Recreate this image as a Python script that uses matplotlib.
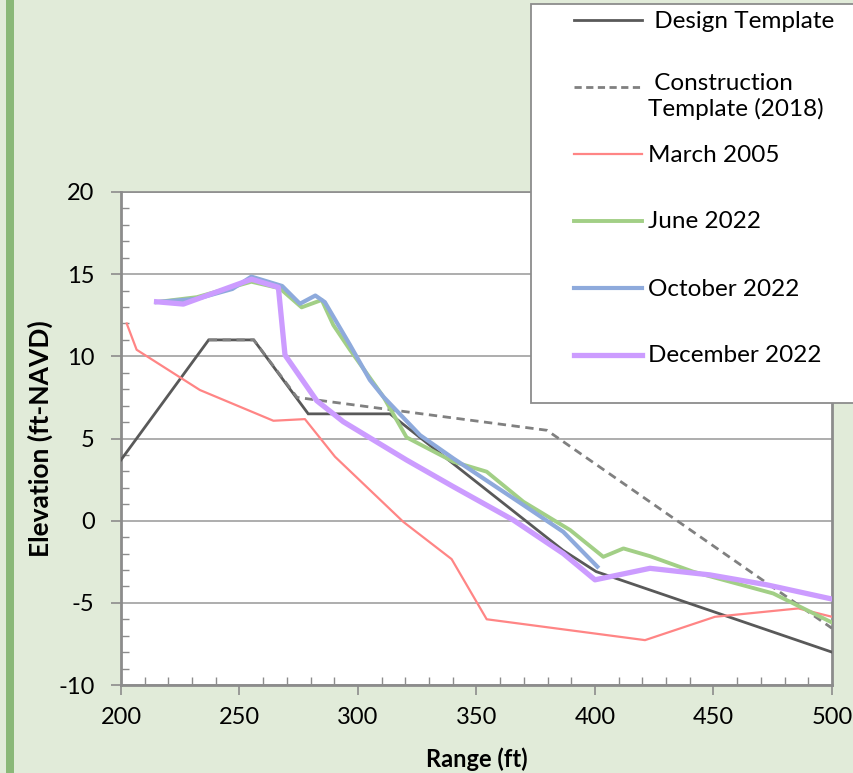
import matplotlib
matplotlib.use("Agg")
import matplotlib.pyplot as plt
from matplotlib.lines import Line2D
from matplotlib.patches import Rectangle

plt.rcParams['font.family'] = ['Lato', 'DejaVu Sans']
plt.rcParams['axes.unicode_minus'] = False

# ---- data ----
design_x = [200, 237, 256, 279, 313.5, 386.5, 400.5, 500]
design_y = [3.7, 11.0, 11.0, 6.5, 6.5, -1.8, -3.1, -8.0]

constr_x = [237, 256, 274.3, 379.7, 500]
constr_y = [11.0, 11.0, 7.5, 5.5, -6.55]

march_x = [202.4, 206.6, 233.3, 264.3, 277.6, 290.3, 319.1, 339.5, 354.3, 421.1, 450.6, 485.8, 500]
march_y = [12.0, 10.4, 7.95, 6.08, 6.18, 3.89, -0.07, -2.34, -6.0, -7.27, -5.85, -5.34, -5.85]

june_x = [215, 232, 255, 267, 276.2, 284.7, 289.6, 296.6, 310.7, 320.5, 340.2, 354.3,
          369.8, 389.5, 403.5, 412, 423.2, 441.5, 475.2, 500]
june_y = [13.3, 13.6, 14.54, 14.14, 12.98, 13.43, 11.9, 10.4, 7.54, 5.07, 3.59, 2.98,
          1.15, -0.57, -2.2, -1.69, -2.16, -3.11, -4.43, -6.2]

oct_x = [215, 232, 247, 255, 268, 275.5, 282, 286, 296.6, 305, 310.7, 326.2, 340.2,
         369.8, 386.6, 401]
oct_y = [13.3, 13.5, 14.1, 14.85, 14.28, 13.2, 13.7, 13.3, 10.7, 8.56, 7.54, 5.2, 3.79,
         0.95, -0.68, -2.8]

dec_x = [215, 226.3, 244.6, 255.1, 266.4, 269.2, 282.6, 293.8, 320.5, 340.2, 365.5,
         386.6, 400, 423.2, 448.5, 472.4, 500]
dec_y = [13.32, 13.18, 14.14, 14.69, 14.2, 10.08, 7.3, 6.02, 3.69, 2.07, 0.04,
         -2.0, -3.6, -2.9, -3.3, -3.9, -4.77]

labels = [" Design Template", " Construction\nTemplate (2018)", "March 2005",
          "June 2022", "October 2022", "December 2022"]
x_ticks = [200, 250, 300, 350, 400, 450, 500]
y_ticks = [-10, -5, 0, 5, 10, 15, 20]

# ---- styles ----
BG = '#e1ebd9'
c_design = '#595959'
c_constr = '#808080'
c_march = '#ff8585'
c_june = '#a2cf86'
c_oct = '#8eaadc'
c_dec = '#cc9cff'
GRID = '#a0a0a0'
AXC = '#8c8c8c'

W, H = 854, 773
fig = plt.figure(figsize=(W / 100, H / 100), dpi=100)
fig.patch.set_facecolor(BG)

def fx(px):
    return px / W

def fy(py):
    return 1 - py / H

# left decorative bar
fig.add_artist(Rectangle((fx(6), 0), fx(8), 1, transform=fig.transFigure,
                         facecolor='#8ab878', edgecolor='none', zorder=0))

ax = fig.add_axes([fx(121), fy(685), fx(832 - 121), fy(192) - fy(685)])
ax.set_facecolor('white')

ax.plot(design_x, design_y, color=c_design, lw=2.0, solid_joinstyle='miter', zorder=3)
ax.plot(constr_x, constr_y, color=c_constr, lw=2.0, dashes=(3.0, 2.0), zorder=3)
ax.plot(march_x, march_y, color=c_march, lw=1.6, zorder=3)
ax.plot(june_x, june_y, color=c_june, lw=2.8, zorder=4)
ax.plot(oct_x, oct_y, color=c_oct, lw=3.0, zorder=5)
ax.plot(dec_x, dec_y, color=c_dec, lw=3.8, zorder=6)

ax.set_xlim(200, 500)
ax.set_ylim(-10, 20)
ax.set_xticks(x_ticks)
ax.set_yticks(y_ticks)
ax.set_xticks(range(200, 501, 10), minor=True)
ax.set_yticks(range(-10, 21, 1), minor=True)
ax.yaxis.grid(True, which='major', color=GRID, lw=1.2)
ax.set_axisbelow(True)

for s in ax.spines.values():
    s.set_color(AXC)
    s.set_linewidth(1.2)
ax.spines['left'].set_linewidth(2.0)
ax.spines['bottom'].set_linewidth(2.0)
ax.spines['right'].set_linewidth(2.0)

ax.tick_params(axis='both', which='major', direction='out', length=7, width=1.2,
               color=AXC, labelsize=17, labelcolor='black')
ax.tick_params(axis='y', which='major', pad=12)
ax.tick_params(axis='x', which='major', pad=9)
ax.tick_params(axis='both', which='minor', direction='in', length=6, width=1.0, color=AXC)

ax.set_xlabel("Range (ft)", fontsize=17, fontweight='bold', labelpad=14)
ax.set_ylabel("Elevation (ft-NAVD)", fontsize=19, fontweight='bold', labelpad=4)

# ---- legend box (manual, Excel-like spacing) ----
fig.add_artist(Rectangle((fx(531), fy(403)), fx(340), fy(4) - fy(403),
                         transform=fig.transFigure, facecolor='white',
                         edgecolor='#8c8c8c', lw=1.3, zorder=10))
leg_styles = [
    dict(color=c_design, lw=2.0),
    dict(color=c_constr, lw=2.0, dashes=(2.6, 1.6)),
    dict(color=c_march, lw=1.6),
    dict(color=c_june, lw=2.8),
    dict(color=c_oct, lw=3.0),
    dict(color=c_dec, lw=3.8),
]
for i, (lab, st) in enumerate(zip(labels, leg_styles)):
    yy = 20 + 67 * i
    fig.add_artist(Line2D([fx(574), fx(642)], [fy(yy), fy(yy)],
                          transform=fig.transFigure, zorder=11, **st))
    if "\n" in lab:
        fig.text(fx(648), fy(yy - 14), lab, fontsize=17.5, va='top', ha='left',
                 linespacing=1.2, zorder=11)
    else:
        fig.text(fx(648), fy(yy + 1), lab, fontsize=17.5, va='center', ha='left', zorder=11)

fig.savefig("out.png", dpi=100, facecolor=BG)
